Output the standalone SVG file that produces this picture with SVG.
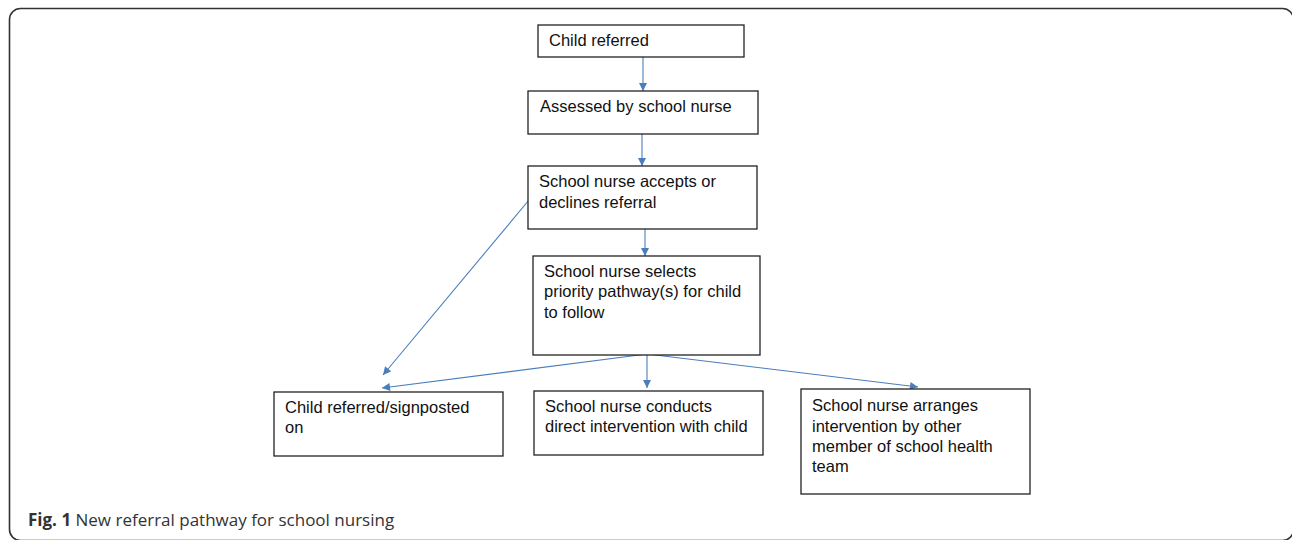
<svg xmlns="http://www.w3.org/2000/svg" width="1292" height="540" viewBox="0 0 1292 540">
<style>
.box{fill:#fff;stroke:#222;stroke-width:1.3}
.t{font-family:"Liberation Sans",Arial,sans-serif;font-size:16.5px;fill:#111}
.c{stroke:#4a7ebb;stroke-width:1.1;fill:none}
.cap{font-family:"Open Sans",sans-serif;font-size:17px;fill:#333}
</style>
<defs>
<marker id="ah" viewBox="0 0 10 10" refX="10" refY="5" markerWidth="9" markerHeight="8" markerUnits="userSpaceOnUse" orient="auto">
<path d="M0,0 L10,5 L0,10 z" fill="#4a7ebb"/>
</marker>
</defs>
<rect x="9.5" y="8.5" width="1284" height="532" rx="11" fill="#fff" stroke="#333" stroke-width="1.6"/>
<g id="connectors">
<line class="c" x1="643" y1="57" x2="643" y2="91" marker-end="url(#ah)"/>
<line class="c" x1="642" y1="134" x2="642" y2="166" marker-end="url(#ah)"/>
<line class="c" x1="645" y1="229" x2="645" y2="256" marker-end="url(#ah)"/>
<line class="c" x1="529" y1="200" x2="383" y2="375" marker-end="url(#ah)"/>
<line class="c" x1="647" y1="354" x2="382" y2="388" marker-end="url(#ah)"/>
<line class="c" x1="647" y1="354" x2="647" y2="388" marker-end="url(#ah)"/>
<line class="c" x1="647" y1="354" x2="918" y2="387" marker-end="url(#ah)"/>
</g>
<g id="n1">
<rect class="box" x="538" y="25" width="206" height="32"/>
<text class="t" x="549" y="46">Child referred</text>
</g>
<g id="n2">
<rect class="box" x="528" y="91" width="230" height="43"/>
<text class="t" x="540" y="112">Assessed by school nurse</text>
</g>
<g id="n3">
<rect class="box" x="528" y="166" width="229" height="63"/>
<text class="t" x="539" y="187">School nurse accepts or</text>
<text class="t" x="539" y="208">declines referral</text>
</g>
<g id="n4">
<rect class="box" x="533" y="256" width="227" height="99"/>
<text class="t" x="544" y="277">School nurse selects</text>
<text class="t" x="544" y="297">priority pathway(s) for child</text>
<text class="t" x="544" y="318">to follow</text>
</g>
<g id="n5">
<rect class="box" x="274" y="392" width="229" height="64"/>
<text class="t" x="285" y="413">Child referred/signposted</text>
<text class="t" x="285" y="433">on</text>
</g>
<g id="n6">
<rect class="box" x="534" y="391" width="229" height="64"/>
<text class="t" x="545" y="412">School nurse conducts</text>
<text class="t" x="545" y="432">direct intervention with child</text>
</g>
<g id="n7">
<rect class="box" x="801" y="389" width="229" height="105"/>
<text class="t" x="812" y="411">School nurse arranges</text>
<text class="t" x="812" y="432">intervention by other</text>
<text class="t" x="812" y="452">member of school health</text>
<text class="t" x="812" y="472">team</text>
</g>
<text class="cap" x="28" y="526"><tspan font-weight="bold">Fig. 1</tspan> New referral pathway for school nursing</text>
</svg>
